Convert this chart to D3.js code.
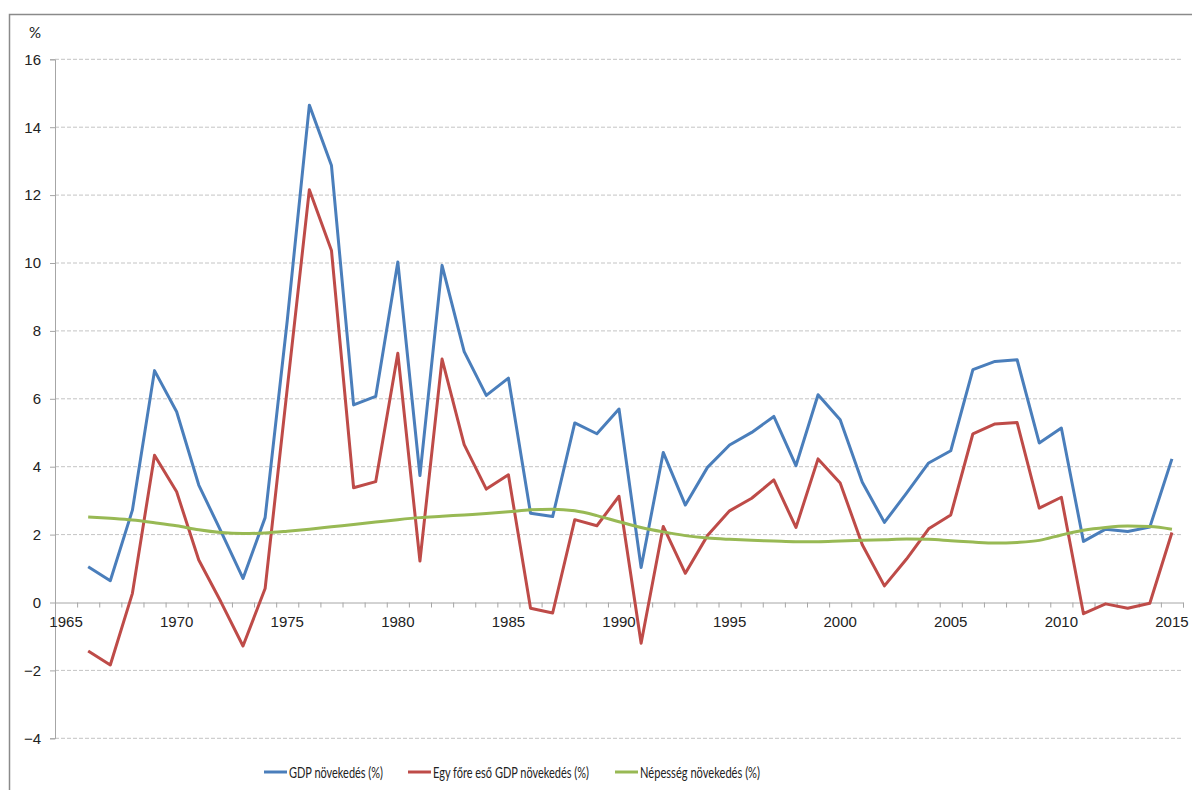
<!DOCTYPE html>
<html>
<head>
  <meta charset="utf-8">
  <script src="https://cdn.jsdelivr.net/npm/d3@7"></script>
  <style type="text/css">
    body { margin: 0; background: #fff; }
    svg { display: block; font-family: Lato, "Open Sans", sans-serif; }
  </style>
</head>
<body>
  <script type="text/javascript">
    const width = 1192;
    const height = 790;

    const years = d3.range(1966, 2016);
    const categories = d3.range(1965, 2016);
    const xLabels = [1965, 1970, 1975, 1980, 1985, 1990, 1995, 2000, 2005, 2010, 2015];
    const yTicks = [-4, -2, 0, 2, 4, 6, 8, 10, 12, 14, 16];

    const gdp = [1.05, 0.64, 2.72, 6.83, 5.62, 3.46, 2.1, 0.71, 2.5, 8.3,
      14.65, 12.87, 5.82, 6.07, 10.03, 3.74, 9.93, 7.39, 6.1, 6.61,
      2.63, 2.53, 5.29, 4.97, 5.7, 1.03, 4.42, 2.87, 3.98, 4.64,
      5.01, 5.48, 4.03, 6.12, 5.38, 3.54, 2.36, 3.22, 4.11, 4.47,
      6.86, 7.1, 7.15, 4.7, 5.14, 1.8, 2.16, 2.09, 2.22, 4.23];
    const gdpPerCapita = [-1.43, -1.84, 0.27, 4.34, 3.26, 1.25, 0.02, -1.28, 0.41, 6.3,
      12.16, 10.37, 3.38, 3.56, 7.34, 1.22, 7.17, 4.65, 3.34, 3.76,
      -0.17, -0.31, 2.44, 2.26, 3.13, -1.2, 2.24, 0.86, 1.97, 2.7,
      3.07, 3.61, 2.21, 4.23, 3.52, 1.7, 0.49, 1.28, 2.17, 2.58,
      4.97, 5.26, 5.3, 2.78, 3.1, -0.33, -0.04, -0.17, -0.02, 2.06];
    const population = [2.52, 2.48, 2.43, 2.35, 2.26, 2.14, 2.06, 2.03, 2.05, 2.1,
      2.16, 2.23, 2.3, 2.37, 2.44, 2.5, 2.54, 2.58, 2.62, 2.67,
      2.73, 2.75, 2.7, 2.56, 2.38, 2.21, 2.08, 1.97, 1.9, 1.86,
      1.83, 1.81, 1.79, 1.79, 1.81, 1.83, 1.85, 1.87, 1.86, 1.82,
      1.78, 1.75, 1.77, 1.83, 1.99, 2.13, 2.21, 2.25, 2.24, 2.16];

    const seriesNames = ['GDP növekedés (%)', 'Egy főre eső GDP növekedés (%)', 'Népesség növekedés (%)'];
    const colors = ['#4a7ebb', '#be4b48', '#98b954'];

    const svg = d3.select('body').append('svg')
      .attr('width', width)
      .attr('height', height);

    // outer chart frame
    svg.append('rect')
      .attr('x', 9.5).attr('y', 14.5)
      .attr('width', 1300).attr('height', 900)
      .attr('fill', 'none')
      .attr('stroke', '#8a8a8a')
      .attr('stroke-width', 1.5);

    const plotLeft = 55, plotRight = 1183, plotTop = 59.3, plotBottom = 738.3;

    const x = d3.scaleBand().domain(categories).range([plotLeft, plotRight]).paddingInner(0).paddingOuter(0);
    const xb = d3.scaleLinear().domain([1965, 2016]).range([plotLeft, plotRight]);
    const y = d3.scaleLinear().domain([-4, 16]).range([plotBottom, plotTop]);
    const cx = d => x(d) + x.bandwidth() / 2;

    // gridlines
    svg.append('g')
      .selectAll('line')
      .data(yTicks.filter(d => d !== 0))
      .join('line')
      .attr('x1', plotLeft).attr('x2', plotRight)
      .attr('y1', d => y(d)).attr('y2', d => y(d))
      .attr('stroke', '#c4c4c4')
      .attr('stroke-dasharray', '4,2');

    // y axis
    const yAxis = svg.append('g')
      .attr('transform', `translate(${plotLeft},0)`)
      .call(d3.axisLeft(y).tickValues(yTicks).tickSize(5).tickPadding(9).tickFormat(d3.format('d')));
    yAxis.select('.domain').attr('stroke', '#a6a6a6');
    yAxis.selectAll('.tick line').attr('stroke', '#a6a6a6');
    yAxis.selectAll('text').attr('font-size', 15).attr('fill', '#222');

    // x axis ticks at category boundaries
    const xTicks = svg.append('g')
      .attr('transform', `translate(0,${y(0)})`)
      .call(d3.axisBottom(xb).tickValues(d3.range(1965, 2017)).tickSize(5).tickFormat(''));
    xTicks.select('.domain').attr('stroke', '#a6a6a6');
    xTicks.selectAll('.tick line').attr('stroke', '#a6a6a6');

    const xAxis = svg.append('g')
      .attr('transform', `translate(0,${y(0)})`)
      .call(d3.axisBottom(x).tickValues(xLabels).tickSize(0).tickPadding(14));
    xAxis.select('.domain').remove();
    xAxis.selectAll('text').attr('font-size', 15).attr('fill', '#222');

    svg.append('text')
      .attr('x', 35).attr('y', 38)
      .attr('text-anchor', 'middle')
      .attr('font-size', 15)
      .attr('fill', '#222')
      .text('%');

    const lineLinear = d3.line().x((d, i) => cx(years[i])).y(d => y(d));
    const lineSmooth = d3.line().x((d, i) => cx(years[i])).y(d => y(d)).curve(d3.curveMonotoneX);

    const series = [gdp, gdpPerCapita, population];
    series.forEach((s, i) => {
      svg.append('path')
        .datum(s)
        .attr('d', i === 2 ? lineSmooth : lineLinear)
        .attr('fill', 'none')
        .attr('stroke', colors[i])
        .attr('stroke-width', 3)
        .attr('stroke-linejoin', 'round');
    });

    // legend (narrow text like the original's Calibri)
    const legendX = [264, 408, 615];
    const legendW = [94, 156, 120];
    const legend = svg.append('g')
      .selectAll('g')
      .data(seriesNames)
      .join('g')
      .attr('transform', (d, i) => `translate(${legendX[i]},772)`);
    legend.append('line')
      .attr('x1', 0).attr('x2', 23)
      .attr('stroke', (d, i) => colors[i])
      .attr('stroke-width', 3);
    legend.append('text')
      .attr('x', 25).attr('y', 5.5)
      .attr('font-size', 15.5)
      .attr('fill', '#222')
      .attr('textLength', (d, i) => legendW[i])
      .attr('lengthAdjust', 'spacingAndGlyphs')
      .text(d => d);
  </script>
</body>
</html>
